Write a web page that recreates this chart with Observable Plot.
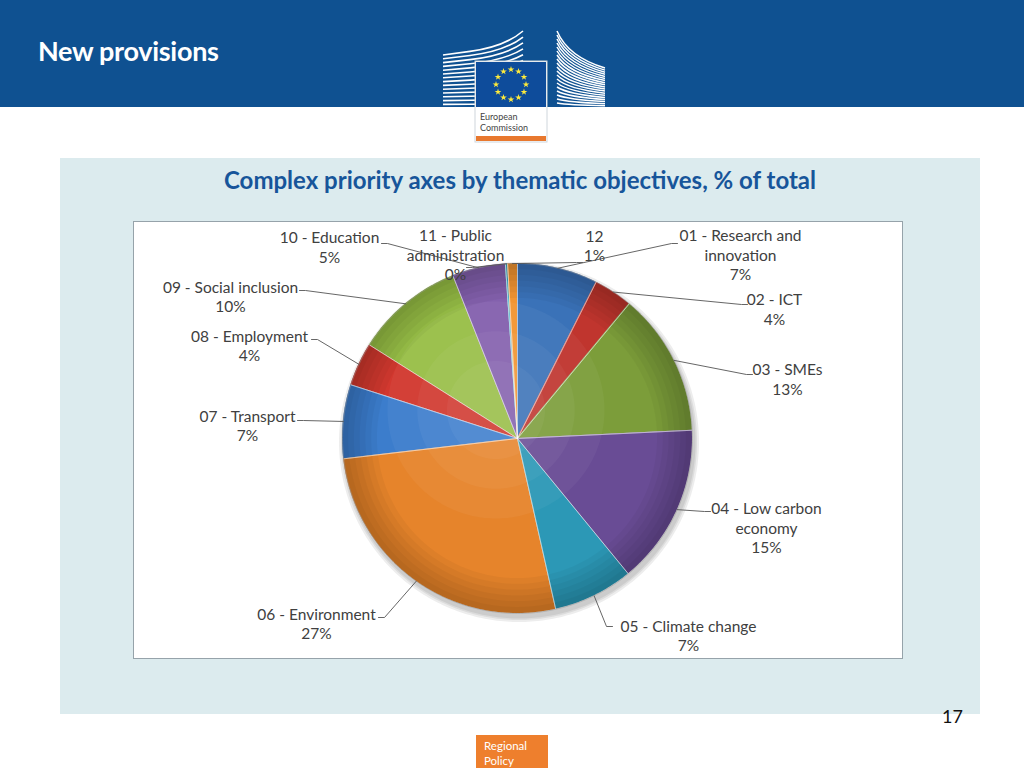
<!DOCTYPE html>
<html>
<head>
<meta charset="utf-8">
<script src="https://cdn.jsdelivr.net/npm/d3@7"></script>
<script src="https://cdn.jsdelivr.net/npm/@observablehq/plot@0.6"></script>
<style>
  html, body { margin: 0; padding: 0; }
  body { width: 1024px; height: 768px; position: relative; overflow: hidden; background: #ffffff; font-family: Lato, "Open Sans", sans-serif; }
  .header { position: absolute; left: 0; top: 0; width: 1024px; height: 107px; background: #0F5191; }
  .header h1 { position: absolute; left: 38px; top: 34px; margin: 0; font: bold 27px Lato, sans-serif; color: #ffffff; letter-spacing: -0.3px; }
  .logo { position: absolute; left: 0; top: 0; }
  .panel { position: absolute; left: 60px; top: 158px; width: 920px; height: 556px; background: #DCEBEE; }
  .title { position: absolute; left: 60px; width: 920px; top: 165px; text-align: center; font: bold 24px Lato, sans-serif; color: #17559A; }
  .box { position: absolute; left: 133px; top: 221px; width: 768px; height: 436px; border: 1.5px solid #96A3AA; background: #ffffff; }
  .box svg { display: block; }
  .pagenum { position: absolute; left: 920px; width: 43px; top: 705px; text-align: right; font: 18px Lato, sans-serif; color: #111; }
  .rp { position: absolute; left: 476px; top: 735px; width: 72px; height: 33px; background: #EE7F2D; color: #fff; font: 11.5px Lato, sans-serif; line-height: 15px; padding-left: 8px; box-sizing: border-box; padding-top: 3px; }
</style>
</head>
<body>
<div class="header"><h1>New provisions</h1></div>
<svg class="logo" width="1024" height="145" id="logo"></svg>

<div class="panel"></div>
<div class="title">Complex priority axes by thematic objectives, % of total</div>
<div class="box" id="chart"></div>
<div class="pagenum">17</div>
<div class="rp">Regional<br>Policy</div>

<script>
// ---------------- data ----------------
const categories = [
  "01 - Research and\ninnovation",
  "02 - ICT",
  "03 - SMEs",
  "04 - Low carbon\neconomy",
  "05 - Climate change",
  "06 - Environment",
  "07 - Transport",
  "08 - Employment",
  "09 - Social inclusion",
  "10 - Education",
  "11 - Public\nadministration",
  "12"
];
const values = [7.4, 3.6, 13.2, 14.8, 7.4, 26.6, 6.8, 4.0, 10.0, 4.9, 0.2, 0.9];
const sliceColors = [
  "#3A72B8", "#C0352E", "#7C9D3A", "#694C95", "#2C98B6", "#E6842B",
  "#3C7DCC", "#D2382F", "#98BF47", "#8461AE", "#35A9C7", "#F29532"
];

// ---------------- layout (pixels relative to pie centre, y downward) ----------------
const labelCenters = [
  [223, -184], [257, -130], [270, -60], [249, 89], [171, 196.5], [-201, 184.5],
  [-270, -13.5], [-268, -93.5], [-287, -142.5], [-188, -192], [-62, -184], [77, -193.5]
];
const leaderEnds = [
  [160, -195], [230, -134], [235, -64], [193, 73], [95, 188], [-139, 179],
  [-220, -18], [-206, -99], [-218, -148], [-136, -195], [-51, -171], [65, -176]
];

// ---------------- geometry ----------------
const R = 175;
const total = d3.sum(values);
const arcs = d3.pie().sort(null).value(d => d)(values);

function arcPoints(a0, a1, r, dx = 0, dy = 0) {
  const n = Math.max(2, Math.ceil((a1 - a0) / (Math.PI / 180)));
  return d3.range(n + 1).map(k => {
    const t = a0 + (a1 - a0) * k / n;
    return {x: dx + r * Math.sin(t), y: dy - r * Math.cos(t), cx: dx, cy: dy};
  });
}
// ring band between radii r0 and r1 (for edge shading)
function ringPoints(r0, r1, dx = 0, dy = 0) {
  return d3.range(0, 361, 2).map(deg => {
    const t = deg * Math.PI / 180;
    return {x0: dx + r0 * Math.sin(t), y0: dy - r0 * Math.cos(t), x: dx + r1 * Math.sin(t), y: dy - r1 * Math.cos(t)};
  });
}
const slices = arcs.map(a => arcPoints(a.startAngle, a.endAngle, R));
const circlePts = arcPoints(0, 2 * Math.PI, R);

const shadowDisks = [R + 5, R + 3, R + 1.5].map(r => arcPoints(0, 2 * Math.PI, r, 2, 4));
const edgeBands = d3.range(6).map(k => ringPoints(R * (0.80 + k * 0.033), R));
const highlights = [0.62, 0.45, 0.28].map(f => arcPoints(0, 2 * Math.PI, R * f, -R * 0.12, -R * 0.16));

const leaderPts = [];
arcs.forEach((a, i) => {
  const mid = (a.startAngle + a.endAngle) / 2;
  const sx = R * Math.sin(mid), sy = -R * Math.cos(mid);
  const [ex, ey] = leaderEnds[i];
  const elbow = ex > sx ? ex - 6 : ex + 6;
  leaderPts.push({key: categories[i], x: sx, y: sy});
  leaderPts.push({key: categories[i], x: elbow, y: ey});
  leaderPts.push({key: categories[i], x: ex, y: ey});
});

const labels = categories.map((c, i) => ({
  text: c + "\n" + Math.round(values[i] / total * 100) + "%",
  x: labelCenters[i][0],
  y: labelCenters[i][1]
}));

const sliceMark = (pts, opts) => Plot.area(pts, {x1: "cx", y1: "cy", x2: "x", y2: "y", curve: "linear", ...opts});
const bandMark = (pts, opts) => Plot.area(pts, {x1: "x0", y1: "y0", x2: "x", y2: "y", curve: "linear", ...opts});

const chart = Plot.plot({
  width: 768,
  height: 436,
  margin: 0,
  x: {domain: [-383, 385], axis: null},
  y: {domain: [-216, 220], axis: null, reverse: true},
  marks: [
    ...shadowDisks.map(pts => sliceMark(pts, {fill: "#000000", fillOpacity: 0.07})),
    ...slices.map((pts, i) => sliceMark(pts, {fill: sliceColors[i]})),
    ...highlights.map(pts => sliceMark(pts, {fill: "#ffffff", fillOpacity: 0.045})),
    ...edgeBands.map(pts => bandMark(pts, {fill: "#000000", fillOpacity: 0.035})),
    ...slices.map(pts => Plot.line([{x: 0, y: 0}, ...pts, {x: 0, y: 0}], {x: "x", y: "y", stroke: "#ffffff", strokeOpacity: 0.35, strokeWidth: 1})),
    Plot.line(circlePts, {x: "x", y: "y", stroke: "#000000", strokeOpacity: 0.2, strokeWidth: 1}),
    Plot.line(leaderPts, {x: "x", y: "y", z: "key", stroke: "#555555", strokeWidth: 0.9, curve: "linear"}),
    Plot.text(labels, {x: "x", y: "y", text: "text", fontSize: 15.5, lineHeight: 1.26, fill: "#404040", fontFamily: "Lato, sans-serif"})
  ]
});
document.getElementById("chart").appendChild(chart);

// ---------------- decorative logo ----------------
const logo = d3.select("#logo");
for (let k = 0; k < 14; k++) {
  const y0 = 55 + k * 3.8;
  const lift = 24 * Math.pow(1 - k / 14, 1.3);
  logo.append("path")
    .attr("d", `M443,${y0} L470,${y0 - lift * 0.15} Q505,${y0 - lift * 0.35} 523,${y0 - lift}`)
    .attr("fill", "none").attr("stroke", "#ffffff").attr("stroke-width", 1.6);
}
for (let k = 0; k < 19; k++) {
  const y0 = 31 + k * 4;
  const y1 = 68 + k * 2.1;
  logo.append("path")
    .attr("d", `M557,${y0} Q568,${y0 + (y1 - y0) * 0.7} 605,${y1}`)
    .attr("fill", "none").attr("stroke", "#ffffff").attr("stroke-width", 1.5);
}
logo.append("rect").attr("x", 443).attr("y", 107).attr("width", 164).attr("height", 38).attr("fill", "#ffffff");
logo.append("rect").attr("x", 475).attr("y", 61).attr("width", 72).attr("height", 81).attr("fill", "#ffffff").attr("stroke", "#cfd6dc");
logo.append("rect").attr("x", 476).attr("y", 62).attr("width", 70).attr("height", 45).attr("fill", "#0E4C9B");
const starPath = d3.symbol(d3.symbolStar, 14)();
for (let s = 0; s < 12; s++) {
  const t = s * Math.PI / 6;
  logo.append("path").attr("d", starPath)
    .attr("transform", `translate(${511 + 15 * Math.sin(t)},${84.5 - 15 * Math.cos(t)})`)
    .attr("fill", "#FFEB3B");
}
logo.append("text").attr("x", 480).attr("y", 120).attr("font-size", 9).attr("font-family", "Liberation Sans Narrow, Lato, sans-serif").attr("fill", "#444").text("European");
logo.append("text").attr("x", 480).attr("y", 131).attr("font-size", 9).attr("font-family", "Liberation Sans Narrow, Lato, sans-serif").attr("fill", "#444").text("Commission");
logo.append("rect").attr("x", 476).attr("y", 136).attr("width", 70).attr("height", 5).attr("fill", "#E8782E");
</script>
</body>
</html>
